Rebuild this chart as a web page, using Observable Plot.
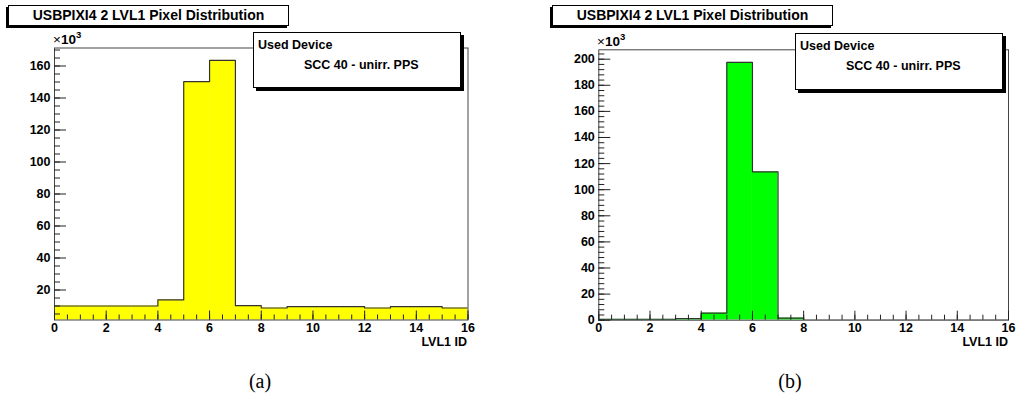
<!DOCTYPE html>
<html><head><meta charset="utf-8">
<script src="https://cdn.jsdelivr.net/npm/d3@7"></script>
<script src="https://cdn.jsdelivr.net/npm/@observablehq/plot@0.6"></script>
<style>
body{margin:0;width:1019px;height:403px;position:relative;background:#fff;font-family:"Liberation Sans",Arial,sans-serif;overflow:hidden}
.abs{position:absolute}
.tbox{position:absolute;height:19px;border:1px solid #000;background:#fff;box-shadow:-2px 2px 0 #000;font-weight:bold;font-size:14px;line-height:19px;text-align:center;white-space:nowrap}
.lbox{position:absolute;border:1px solid #000;background:#fff;box-shadow:3px 3px 0 #000;font-weight:bold;font-size:12.5px;white-space:nowrap}
.lbox .l1{position:absolute;left:4px;top:5px}
.lbox .l2{position:absolute;left:50px;top:25px}
.mult{position:absolute;font-size:13.5px;white-space:nowrap}
.mult sup{font-size:9.5px;font-weight:bold}
.mult b{font-weight:bold}
.xlab{position:absolute;font-size:12.5px;font-weight:bold;white-space:nowrap;text-align:right}
.cap{position:absolute;font-family:"Liberation Serif","Times New Roman",serif;font-size:20px;transform:translateX(-50%)}
svg{position:absolute;overflow:visible}
</style></head><body>
<script>
// ---- data ----
const binStarts = [0,1,2,3,4,5,6,7,8,9,10,11,12,13,14,15];   // LVL1 ID bins (width 1)
const countsA = [10,10,10,10,13.8,150.2,163.5,10.2,8.75,9.6,9.6,9.6,8.75,9.6,9.6,8.75];   // x10^3
const countsB = [0.6,0.6,0.6,1.2,5.4,197.5,113.6,1.6,0,0,0,0,0,0,0,0];                    // x10^3
const xMajorTicks = [0,2,4,6,8,10,12,14,16];
const xMinorTicks = d3.range(0, 16.01, 0.5);
const yMajorTicksA = [20,40,60,80,100,120,140,160];
const yMinorTicksA = d3.range(5, 171, 5);
const yMajorTicksB = [0,20,40,60,80,100,120,140,160,180,200];
const yMinorTicksB = d3.range(0, 207, 4);
const titleText = "USBPIXI4 2 LVL1 Pixel Distribution";
const legendHeader = "Used Device";
const legendEntry = "SCC 40 - unirr. PPS";
const axisTitle = "LVL1 ID";
const captions = ["(a)", "(b)"];

function hist({counts, fill, yDomain, yMajor, yMinor, width, height, mL, mR, mT, mB}) {
  const edges = binStarts.concat([binStarts[binStarts.length-1] + 1]);
  const step = edges.map((e, i) => ({x: e, y: counts[Math.min(i, counts.length-1)]}));
  const bars = binStarts.map((b, i) => ({x1: b, x2: b + 1, y: counts[i]}));
  const font = {fontWeight: "bold", fontSize: 12.5, fill: "#000"};
  return Plot.plot({
    width, height, marginLeft: mL, marginRight: mR, marginTop: mT, marginBottom: mB,
    x: {domain: [0, 16]},
    y: {domain: yDomain},
    style: {fontFamily: "Liberation Sans, Arial, sans-serif", fontWeight: "bold", fontSize: "12.5px", color: "#000", background: "transparent"},
    marks: [
      Plot.rectY(bars, {x1: "x1", x2: "x2", y1: 0, y2: "y", fill, clip: true}),
      Plot.line(step, {x: "x", y: "y", curve: "step-after", stroke: "#333", strokeWidth: 1.2, clip: true}),
      Plot.frame({stroke: "#444", strokeWidth: 1}),
      Plot.axisX({ticks: xMinorTicks, tickSize: -5, text: null, label: null, stroke: "#222"}),
      Plot.axisX({ticks: xMajorTicks, tickSize: -9, text: null, label: null, stroke: "#222"}),
      Plot.axisX({ticks: xMajorTicks, tickSize: 0, tickPadding: 3, label: null, tickFormat: d => d, ...font}),
      Plot.axisY({ticks: yMinor, tickSize: -6, text: null, label: null, stroke: "#222"}),
      Plot.axisY({ticks: yMajor, tickSize: -12, text: null, label: null, stroke: "#222"}),
      Plot.axisY({ticks: yMajor, tickSize: 0, tickPadding: 4, label: null, tickFormat: d => d, ...font})
    ]
  });
}

const svgA = hist({counts: countsA, fill: "#ffff00", yDomain: [1.25, 171.25], yMajor: yMajorTicksA, yMinor: yMinorTicksA,
  width: 509, height: 360, mL: 54, mR: 41.5, mT: 47.5, mB: 40.5});
svgA.style.left = "0px"; svgA.style.top = "0px";
document.body.appendChild(svgA);

const svgB = hist({counts: countsB, fill: "#00ff00", yDomain: [0, 207.2], yMajor: yMajorTicksB, yMinor: yMinorTicksB,
  width: 510, height: 360, mL: 89.3, mR: 11, mT: 49.3, mB: 40.3});
svgB.style.left = "509px"; svgB.style.top = "0px";
document.body.appendChild(svgB);

function addDiv(cls, style, html) {
  const d = document.createElement("div");
  d.className = cls; d.setAttribute("style", style); d.innerHTML = html;
  document.body.appendChild(d); return d;
}
// titles
addDiv("tbox", "left:8px;top:5px;width:279px;", titleText);
addDiv("tbox", "left:552px;top:5px;width:279px;", titleText);
// legends
addDiv("lbox", "left:253px;top:32px;width:206px;height:54px;", `<span class="l1">${legendHeader}</span><span class="l2">${legendEntry}</span>`);
addDiv("lbox", "left:795px;top:33px;width:206px;height:55px;", `<span class="l1">${legendHeader}</span><span class="l2">${legendEntry}</span>`);
// multipliers
addDiv("mult", "left:53px;top:29px;", "×<b>10</b><sup>3</sup>");
addDiv("mult", "left:597px;top:31px;", "×<b>10</b><sup>3</sup>");
// axis titles
addDiv("xlab", "right:" + (1019-467) + "px;top:335px;", axisTitle);
addDiv("xlab", "right:" + (1019-1008) + "px;top:335px;", axisTitle);
// captions
addDiv("cap", "left:260px;top:370px;", captions[0]);
addDiv("cap", "left:790px;top:370px;", captions[1]);
</script>
</body></html>
